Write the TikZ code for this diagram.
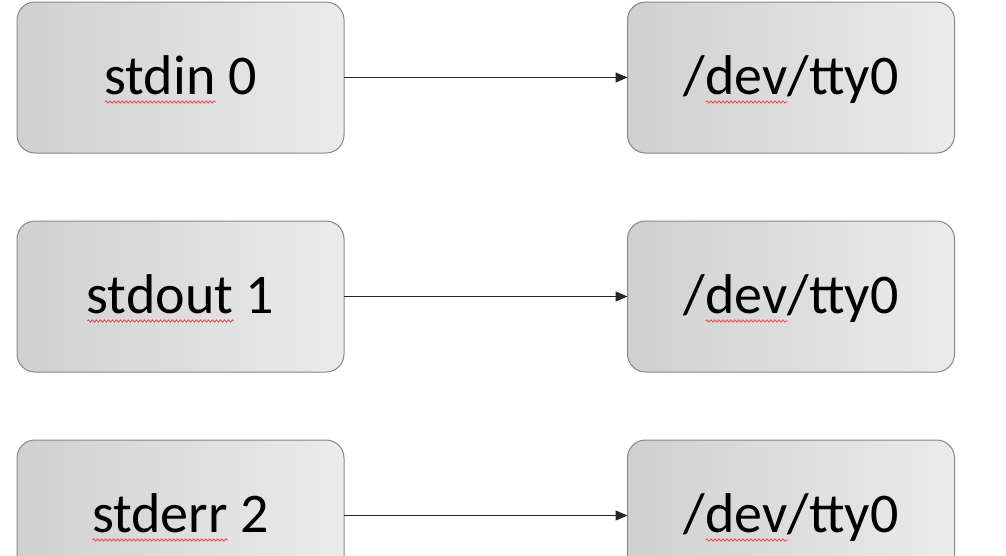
\documentclass[tikz,border=0pt]{standalone}
\usepackage{fontspec}
\setmainfont{Carlito}
\usetikzlibrary{arrows.meta, decorations.pathmorphing}
\definecolor{boxdark}{RGB}{208,208,208}
\definecolor{boxlight}{RGB}{235,235,235}
\definecolor{boxedge}{RGB}{135,135,135}
\definecolor{spellred}{RGB}{235,80,80}
\newcommand{\spellmark}[1]{\setbox0=\hbox{#1}\leavevmode\rlap{\tikz[baseline=0pt, x=1pt, y=1pt, sharp corners]\draw[spellred, line width=0.9pt, decorate, decoration={snake, amplitude=1.1pt, segment length=4pt}] (0,-8) -- (\the\wd0,-8);}\copy0\relax}

\begin{document}
\begin{tikzpicture}[x=1pt, y=1pt,
    fdbox/.style={draw=boxedge, line width=1pt, rounded corners=18pt, left color=boxdark, right color=boxlight, minimum width=327pt, minimum height=151pt, outer sep=0pt, text height=40pt, text depth=7pt, font=\fontsize{56}{62}\selectfont},
    arrow/.style={-{Triangle[length=12pt, width=10pt]}, line width=1.4pt, draw=black!85},
]
\useasboundingbox (0,0) rectangle (1006,-555);
\clip (0,0) rectangle (1006,-555);

% File descriptors
\node[fdbox] (stdin) at (180.5, -77.5) {\spellmark{stdin} 0};
\node[fdbox] (stdout) at (180.5, -296.5) {\spellmark{stdout} 1};
\node[fdbox] (stderr) at (180.5, -515.5) {\spellmark{stderr} 2};

% Terminal
\node[fdbox] (ttyin) at (791, -77.5) {/\spellmark{dev}/tty0};
\node[fdbox] (ttyout) at (791, -296.5) {/\spellmark{dev}/tty0};
\node[fdbox] (ttyerr) at (791, -515.5) {/\spellmark{dev}/tty0};

% Arrows
\draw[arrow] (stdin) -- (ttyin);
\draw[arrow] (stdout) -- (ttyout);
\draw[arrow] (stderr) -- (ttyerr);
\end{tikzpicture}
\end{document}
